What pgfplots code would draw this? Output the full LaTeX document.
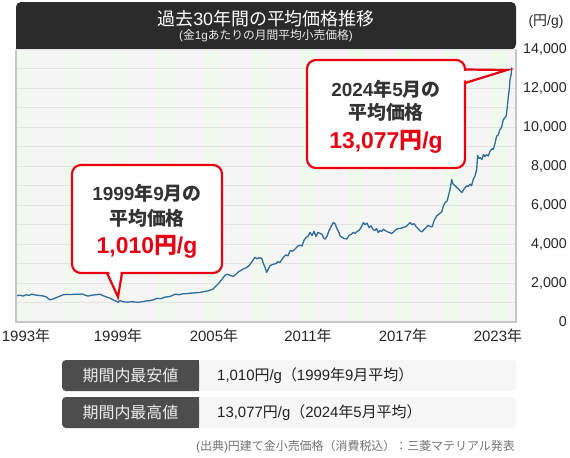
\documentclass[border=0pt]{standalone}
\usepackage{fontspec}
\setmainfont{Liberation Sans}
\newfontfamily\cjk{Noto Sans CJK JP}
\usepackage{pgfplots}
\usepackage{pgfplotstable}
\pgfplotsset{compat=1.18}
\newcommand\J[1]{{\cjk #1}}
\definecolor{hdr}{HTML}{2B2B2B}
\definecolor{goldline}{HTML}{2E6C9A}
\definecolor{cred}{HTML}{E60012}
\definecolor{txt}{HTML}{333333}
\definecolor{bgc}{HTML}{F5F5F5}
\definecolor{band}{HTML}{F1F9EE}
\definecolor{gridc}{HTML}{E3E3E3}
\definecolor{framec}{HTML}{C6C6C6}
\definecolor{lab}{HTML}{4D4D4D}
\definecolor{rowbg}{HTML}{F6F6F6}

\pgfplotstableread{
yr val
1993.27 1350
1993.48 1380
1993.67 1330
1993.86 1400
1994.05 1370
1994.22 1430
1994.43 1390
1994.62 1370
1994.87 1350
1995.12 1300
1995.37 1140
1995.56 1180
1995.75 1250
1996.01 1330
1996.20 1400
1996.45 1420
1996.70 1410
1996.95 1430
1997.21 1420
1997.40 1440
1997.59 1380
1997.78 1330
1998.03 1380
1998.28 1400
1998.53 1430
1998.79 1330
1999.04 1260
1999.23 1200
1999.35 1140
1999.48 1100
1999.61 1050
1999.67 1010
1999.80 1100
1999.92 1060
2000.11 1030
2000.30 1020
2000.49 1040
2000.74 1030
2000.93 1010
2001.19 1040
2001.44 1080
2001.69 1100
2001.94 1150
2002.13 1215
2002.39 1200
2002.64 1280
2002.89 1300
2003.08 1350
2003.27 1430
2003.52 1400
2003.78 1450
2004.03 1460
2004.28 1480
2004.53 1500
2004.85 1520
2005.10 1560
2005.36 1600
2005.54 1650
2005.67 1690
2005.86 1850
2006.05 2000
2006.24 2200
2006.43 2400
2006.56 2460
2006.68 2420
2006.81 2380
2006.94 2340
2007.12 2450
2007.31 2600
2007.44 2650
2007.57 2720
2007.76 2780
2007.95 2900
2008.13 3100
2008.32 3320
2008.45 3250
2008.58 3300
2008.75 3270
2008.83 3050
2008.96 2800
2009.06 2550
2009.15 2700
2009.27 2900
2009.48 2970
2009.65 3000
2009.78 3100
2009.90 3060
2010.09 3300
2010.28 3450
2010.41 3400
2010.54 3660
2010.72 3650
2010.91 3800
2011.04 3900
2011.17 3950
2011.29 3900
2011.42 4200
2011.55 4350
2011.67 4400
2011.80 4600
2011.93 4450
2012.05 4650
2012.18 4400
2012.30 4600
2012.43 4560
2012.56 4500
2012.68 4300
2012.75 4260
2012.87 4400
2013.00 4700
2013.13 4900
2013.27 5110
2013.38 5050
2013.50 4800
2013.63 4600
2013.69 4430
2013.82 4350
2013.95 4300
2014.12 4260
2014.26 4450
2014.39 4500
2014.53 4600
2014.64 4550
2014.77 4650
2014.89 4700
2015.02 4850
2015.17 5110
2015.27 5000
2015.40 5080
2015.53 4850
2015.65 4940
2015.78 4750
2015.91 4700
2016.00 4800
2016.11 4600
2016.22 4700
2016.32 4650
2016.43 4770
2016.54 4700
2016.66 4650
2016.79 4600
2016.96 4550
2017.11 4650
2017.23 4750
2017.36 4800
2017.48 4800
2017.67 4850
2017.86 4900
2017.99 5000
2018.12 5110
2018.24 5000
2018.37 5050
2018.50 4900
2018.62 4800
2018.75 4680
2018.86 4630
2019.00 4750
2019.13 4850
2019.27 4970
2019.38 4900
2019.52 4900
2019.63 5200
2019.80 5450
2019.95 5550
2020.12 5650
2020.20 5900
2020.33 6140
2020.45 6200
2020.54 6480
2020.64 6800
2020.75 7330
2020.83 7100
2020.96 7000
2021.09 6900
2021.21 6800
2021.38 6650
2021.46 6750
2021.59 6900
2021.70 7000
2021.78 6950
2021.91 7080
2022.00 7000
2022.11 7330
2022.22 7500
2022.33 7850
2022.38 8560
2022.47 8400
2022.54 8440
2022.66 8350
2022.75 8610
2022.85 8500
2022.95 8600
2023.06 8530
2023.17 8780
2023.30 8900
2023.38 8870
2023.49 9200
2023.59 9550
2023.68 9600
2023.80 9900
2023.90 10000
2024.01 10400
2024.12 10500
2024.18 10550
2024.24 10900
2024.33 11600
2024.39 12000
2024.43 12460
2024.50 12700
2024.54 13077
}\golddata

\begin{document}
\begin{tikzpicture}
\path[use as bounding box] (0,0) rectangle (570bp,-458bp);
\begin{scope}[x=1bp,y=-1bp]
  % plot background and light bands
  \fill[bgc] (16,49.5) rectangle (516,322);
  \foreach \s in {16,63.4,110.8,158.2,205.6,253,300.4,347.8,395.2,442.6,490}
    \fill[band] (\s,49.5) rectangle (\s+16.5,322);
  % header
  \fill[hdr] (16,49.5) [rounded corners=5bp] -- (16,2) -- (516,2) -- (516,49.5) [sharp corners] -- cycle;
  \node[anchor=base, text=white, inner sep=0pt, font=\fontsize{18}{20}\selectfont] at (266,25.5) {\J{過去}30\J{年間の平均価格推移}};
  \node[anchor=base, text=white!92!black, inner sep=0pt, font=\fontsize{11.8}{13}\selectfont] at (266,39.5) {(\J{金}1g\J{あたりの月間平均小売価格})};
  \node[anchor=base, text=black!85, inner sep=0pt, font=\fontsize{14}{16}\selectfont] at (546,25) {(\J{円}/g)};
\end{scope}

\begin{axis}[
  at={(16bp,-322bp)}, anchor=south west,
  scale only axis, width=500bp, height=272.5bp,
  xmin=1993.227, xmax=2024.81, ymin=0, ymax=14000,
  axis line style={draw=none},
  scaled y ticks=false, scaled x ticks=false,
  xtick={1993.86,1999.67,2005.73,2011.67,2017.67,2023.67},
  xticklabels={1993\J{年},1999\J{年},2005\J{年},2011\J{年},2017\J{年},2023\J{年}},
  ytick={0,2000,4000,6000,8000,10000,12000,14000},
  yticklabels={0,{2,000},{4,000},{6,000},{8,000},{10,000},{12,000},{14,000}},
  minor ytick={1000,3000,5000,7000,9000,11000,13000},
  ymajorgrids, yminorgrids,
  major grid style={gridc, line width=1bp},
  minor grid style={gridc, line width=1bp},
  major tick length=0pt, minor tick length=0pt,
  yticklabel pos=right,
  yticklabel style={anchor=east, inner sep=0pt, xshift=51bp, text=black!85, font=\fontsize{14.3}{16}\selectfont},
  xticklabel style={anchor=center, inner sep=0pt, yshift=-14bp, text=black!85, font=\fontsize{15}{17}\selectfont},
]
\addplot[goldline, line width=1.3bp, line join=round] table[x=yr, y=val] {\golddata};
\end{axis}

\begin{scope}[x=1bp,y=-1bp]
  % frame
  \draw[framec, line width=2bp] (16,49.5) -- (16,322) -- (516,322) -- (516,49.5);
  % callout 1
  \draw[cred, line width=2.2bp, fill=white, rounded corners=9bp] (72,165) rectangle (222,273);
  \fill[white] (108.5,270.5) -- (120.8,270.5) -- (118,294) -- cycle;
  \draw[cred, line width=2.2bp, line join=miter] (107,273) -- (118,297) -- (122,273);
  \node[anchor=base, inner sep=0pt, text=txt, font=\bfseries\fontsize{19}{21}\selectfont] at (147,200) {1999\J{年}9\J{月の}};
  \node[anchor=base, inner sep=0pt, text=txt, font=\bfseries\fontsize{19}{21}\selectfont] at (147,225) {\J{平均価格}};
  \node[anchor=base, inner sep=0pt, text=cred, font=\bfseries\fontsize{23}{25}\selectfont] at (147,253) {1,010\J{円}/g};
  % callout 2
  \draw[cred, line width=2.2bp, fill=white, rounded corners=9bp] (307,60) rectangle (465,168);
  \fill[white] (462,70.8) -- (462,81.2) -- (503,70.6) -- cycle;
  \draw[cred, line width=2.2bp, line join=miter] (465,69.5) -- (507,70) -- (465,83);
  \node[anchor=base, inner sep=0pt, text=txt, font=\bfseries\fontsize{19}{21}\selectfont] at (386,96) {2024\J{年}5\J{月の}};
  \node[anchor=base, inner sep=0pt, text=txt, font=\bfseries\fontsize{19}{21}\selectfont] at (386,119) {\J{平均価格}};
  \node[anchor=base, inner sep=0pt, text=cred, font=\bfseries\fontsize{23}{25}\selectfont] at (386,148) {13,077\J{円}/g};
  % bottom rows
  \fill[rowbg, rounded corners=4bp] (62,360) rectangle (516,391);
  \fill[lab, rounded corners=4bp] (62,360) rectangle (199,391);
  \fill[lab] (190,360) rectangle (199,391);
  \node[text=white!93!black, inner sep=0pt, font=\fontsize{16}{18}\selectfont] at (130.5,375.5) {\J{期間内最安値}};
  \node[anchor=west, inner sep=0pt, text=black!87, font=\fontsize{15}{17}\selectfont] at (217,375.5) {1,010\J{円}/g\J{（}1999\J{年}9\J{月平均）}};
  \fill[rowbg, rounded corners=4bp] (62,397) rectangle (516,428);
  \fill[lab, rounded corners=4bp] (62,397) rectangle (199,428);
  \fill[lab] (190,397) rectangle (199,428);
  \node[text=white!93!black, inner sep=0pt, font=\fontsize{16}{18}\selectfont] at (130.5,412.5) {\J{期間内最高値}};
  \node[anchor=west, inner sep=0pt, text=black!87, font=\fontsize{15}{17}\selectfont] at (217,412.5) {13,077\J{円}/g\J{（}2024\J{年}5\J{月平均）}};
  % source
  \node[anchor=east, inner sep=0pt, text=black!55, font=\fontsize{12}{14}\selectfont] at (515,447) {(\J{出典})\J{円建て金小売価格（消費税込）：三菱マテリアル発表}};
\end{scope}
\end{tikzpicture}
\end{document}
